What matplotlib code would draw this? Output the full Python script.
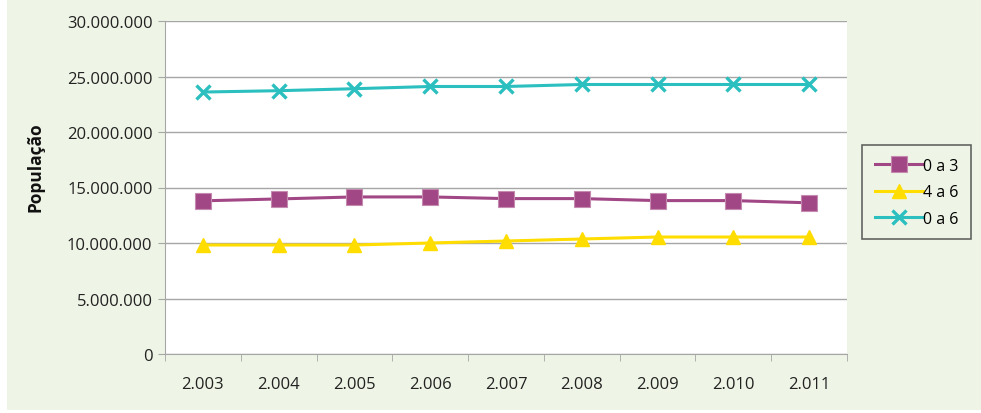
import matplotlib
matplotlib.use("Agg")
import matplotlib.pyplot as plt
from matplotlib.patches import Rectangle
from matplotlib.ticker import FuncFormatter

# ── Data ──────────────────────────────────────────────────────────────────────
years = ["2.003", "2.004", "2.005", "2.006", "2.007", "2.008", "2.009", "2.010", "2.011"]
idade_0_3 = [13.80e6, 13.97e6, 14.15e6, 14.15e6, 14.00e6, 14.00e6, 13.82e6, 13.82e6, 13.62e6]
idade_4_6 = [9.82e6, 9.82e6, 9.82e6, 10.00e6, 10.18e6, 10.36e6, 10.54e6, 10.54e6, 10.54e6]
idade_0_6 = [23.60e6, 23.72e6, 23.90e6, 24.10e6, 24.10e6, 24.28e6, 24.28e6, 24.28e6, 24.28e6]

BG = "#eff5e6"
plt.rcParams["font.family"] = ["Open Sans", "DejaVu Sans"]

W, H = 981, 414
fig = plt.figure(figsize=(W / 100, H / 100), dpi=100, facecolor="white")
# green panel behind the chart (thin white margin at left and bottom)
fig.patches.append(Rectangle((7 / W, 3 / H), 1 - 7 / W, 1 - 3 / H,
                             transform=fig.transFigure, facecolor=BG,
                             edgecolor="none", zorder=-10))

ax = fig.add_axes([165 / W, 1 - 355 / H, 682 / W, 333 / H])
ax.set_facecolor("white")

x = list(range(len(years)))
ax.plot(x, idade_0_3, color="#a24785", lw=2.2, marker="s", ms=11,
        markeredgecolor="#c58ab0", markeredgewidth=0.8, label="0 a 3", zorder=3)
ax.plot(x, idade_4_6, color="#ffdd00", lw=2.2, marker="^", ms=10,
        markeredgecolor="#ffdd00", label="4 a 6", zorder=3)
ax.plot(x, idade_0_6, color="#2bbfbf", lw=2.2, marker="x", ms=10,
        markeredgewidth=2.4, label="0 a 6", zorder=3)

ax.set_xlim(-0.5, len(years) - 0.5)
ax.set_ylim(0, 30e6)
ax.set_yticks(range(0, 30000001, 5000000))
ax.yaxis.set_major_formatter(FuncFormatter(lambda v, p: f"{int(v):,}".replace(",", ".")))
ax.set_xticks(x)
ax.set_xticklabels(years)
ax.set_xticks([i - 0.5 for i in range(len(years) + 1)], minor=True)
ax.tick_params(axis="x", which="major", length=0, pad=16, labelsize=12, colors="#222222")
ax.tick_params(axis="x", which="minor", length=5, color="#a6a6a6")
ax.tick_params(axis="y", length=5, color="#a6a6a6", labelsize=12, labelcolor="#222222", pad=4)

ax.grid(axis="y", color="#a6a6a6", lw=1)
ax.set_axisbelow(True)
for s in ["top", "right"]:
    ax.spines[s].set_visible(False)
for s in ["left", "bottom"]:
    ax.spines[s].set_color("#a6a6a6")

fig.text(35 / W, 1 - 167 / H, "População", rotation=90, ha="center", va="center",
         fontsize=12.5, fontweight="bold", color="#111111")

leg = fig.legend(loc="upper left", bbox_to_anchor=(862 / W, 1 - 146 / H),
                 frameon=True, fancybox=False, fontsize=11.5, handlelength=3.0,
                 handletextpad=0.0, borderpad=0.8, labelspacing=0.65, borderaxespad=0)
leg.get_frame().set_edgecolor("#404040")
leg.get_frame().set_linewidth(1.2)
leg.get_frame().set_facecolor(BG)

fig.savefig("out.png", dpi=100, facecolor="white")
